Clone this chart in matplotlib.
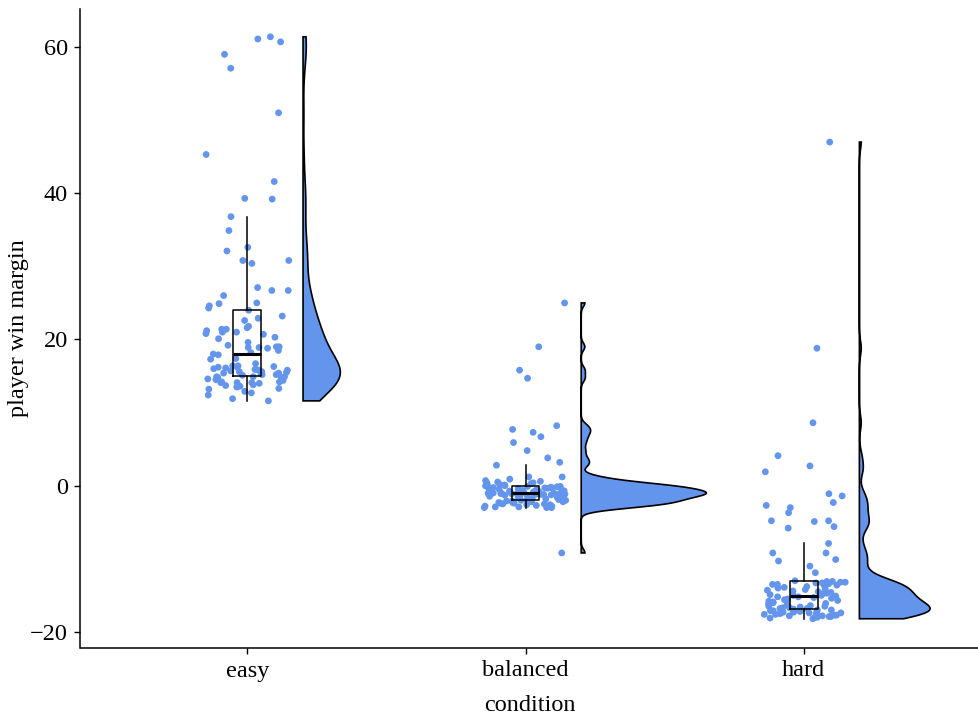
import numpy as np
import matplotlib
matplotlib.use("Agg")
import matplotlib.pyplot as plt
from matplotlib.patches import Polygon

categories = ["easy", "balanced", "hard"]

easy = [61.1, 60.7, 61.4, 59.0, 57.1, 51.0, 45.3, 41.6, 39.2, 39.3,
        36.8, 34.9, 32.1, 30.8, 32.6, 30.4, 30.8, 26.7, 27.1, 26.7,
        26.0, 24.9, 25.0, 24.6, 24.3,
        24.0, 22.6, 23.2, 22.9, 21.8, 21.6, 21.4, 21.2, 21.4, 20.7,
        21.0, 21.0, 20.8, 20.3, 20.1, 19.2, 19.0, 18.9, 19.0, 18.9,
        18.8, 18.0, 18.2, 19.6, 18.5,
        17.4, 16.7, 17.3, 16.4, 16.4, 16.2, 16.3, 16.2, 15.8, 15.9,
        15.9, 15.8, 15.2, 17.9, 15.1, 16.1, 15.6, 16.0, 15.5, 15.4,
        15.6, 15.7, 15.4, 15.3,
        14.9, 15.2, 14.9, 14.8, 14.9, 14.8, 14.2, 14.4, 14.1, 14.1,
        14.2, 14.0, 13.8, 14.1, 13.6, 13.7, 13.2, 13.3, 12.9, 12.7,
        11.9, 11.6, 14.6, 13.5, 12.4, 14.5]

balanced = [25.0, 19.0, 15.8, 14.7, 8.2, 7.7, 7.3, 6.7, 5.9, 4.8, 3.8, 3.2,
            2.8, -9.2,
            -3.0, -3.0, -3.0, -2.9, -2.9, -2.8, -2.8, -2.7, -2.6, -2.6,
            -2.5, -2.5, -2.4, -2.4, -2.3, -2.3, -2.2, -2.2, -2.1, -2.1,
            -2.1, -2.0, -2.0, -2.0,
            -1.95, -1.9, -1.8, -1.75, -1.7, -1.6, -1.55, -1.5, -1.45, -1.4,
            -1.35, -1.3, -1.3, -1.25, -1.2, -1.2, -1.15, -1.15, -1.1, -1.1,
            -1.08, -1.05, -1.05, -1.02, -1.02,
            -1.0, -0.95, -0.9, -0.85, -0.8, -0.75, -0.7, -0.65, -0.6, -0.55,
            -0.5, -0.45, -0.4, -0.35, -0.3, -0.3, -0.25, -0.2, -0.2, -0.15,
            -0.1, -0.1, -0.05, -0.05, -0.02,
            0.0, 0.1, 0.2, 0.3, 0.35, 0.4, 0.5, 0.6, 0.7, 0.9, 1.2, 1.2]

hard = [47.0, 18.8, 8.6, 4.1, 2.7, 1.9, -1.1, -1.4, -2.3, -2.7, -3.0, -3.7,
        -4.8, -4.9, -4.8, -5.8, -5.6, -7.9, -9.2, -9.2, -10.1, -10.3, -11.0,
        -11.9,
        -18.2, -18.1, -18.0, -18.0, -17.9, -17.9, -17.8, -17.8, -17.7, -17.7,
        -17.6, -17.6, -17.5, -17.5, -17.4, -17.4, -17.3, -17.3, -17.2, -17.2,
        -17.1, -17.1, -17.1, -17.0, -17.0,
        -16.9, -16.9, -16.8, -16.8, -16.7, -16.7, -16.6, -16.5, -16.5, -16.4,
        -16.3, -16.2, -16.1, -16.0, -16.0, -15.9, -15.8, -15.7, -15.6, -15.5,
        -15.4, -15.3, -15.2, -15.2, -15.1,
        -15.0, -15.0, -14.9, -14.8, -14.7, -14.6, -14.5, -14.4, -14.3, -14.2,
        -14.1, -14.0, -13.9, -13.8, -13.7, -13.6, -13.5, -13.5, -13.4, -13.3,
        -13.3, -13.2, -13.2, -13.1, -13.1, -13.0]

groups = [np.array(easy), np.array(balanced), np.array(hard)]
yticks = [-20, 0, 20, 40, 60]

BLUE = "#6495ED"
FONT = "Liberation Serif"
FS = 17.5

plt.rcParams["font.family"] = [FONT, "DejaVu Serif"]


def bw_nrd0(x):
    sd = np.std(x, ddof=1)
    q75, q25 = np.percentile(x, [75, 25])
    lo = min(sd, (q75 - q25) / 1.34)
    return 0.9 * lo * len(x) ** -0.2


def kde(x, grid, bw):
    d = (grid[:, None] - x[None, :]) / bw
    return np.exp(-0.5 * d ** 2).sum(axis=1) / (len(x) * bw * np.sqrt(2 * np.pi))


fig = plt.figure(figsize=(9.79, 7.16), dpi=100)
ax = fig.add_axes([80.5 / 979, 1 - 648 / 716, (979 - 80.5) / 979, (648 - 9) / 716])

# densities
dens = []
for g in groups:
    grid = np.linspace(g.min(), g.max(), 512)
    dens.append((grid, kde(g, grid, bw_nrd0(g))))
gmax = max(d.max() for _, d in dens)

for i, (grid, d) in enumerate(dens):
    base = i + 1 + 0.2
    w = d / gmax * 0.45
    xs = np.concatenate([np.full(len(grid), base), (base + w)[::-1]])
    ys = np.concatenate([grid, grid[::-1]])
    poly = Polygon(np.column_stack([xs, ys]), closed=True, facecolor=BLUE,
                   edgecolor="black", linewidth=1.2, zorder=2)
    ax.add_patch(poly)

# jittered points
rng = np.random.default_rng(7)
for i, g in enumerate(groups):
    xj = i + 1 + rng.uniform(-0.15, 0.15, len(g))
    ax.scatter(xj, g, s=24, color=BLUE, edgecolors="none", zorder=3)

# boxplots
ax.boxplot(groups, positions=[1, 2, 3], widths=0.1, showfliers=False,
           showcaps=False, whis=1.5, manage_ticks=False, zorder=4,
           boxprops=dict(color="black", linewidth=1.1),
           whiskerprops=dict(color="black", linewidth=1.1),
           medianprops=dict(color="black", linewidth=2.2))

ax.set_xlim(0.4, 3.63)
ax.set_ylim(-22.2, 65.2)
ax.set_xticks([1, 2, 3])
ax.set_xticklabels(categories)
ax.set_yticks(yticks)
ax.set_yticklabels([str(t).replace("-", "\u2212") for t in yticks])

for s in ["top", "right"]:
    ax.spines[s].set_visible(False)
for s in ["left", "bottom"]:
    ax.spines[s].set_linewidth(1.1)
    ax.spines[s].set_color("black")

ax.tick_params(axis="both", length=4, width=1.0, color="black",
               labelsize=FS, labelcolor="black")
ax.tick_params(axis="y", pad=5)
ax.tick_params(axis="x", pad=5)
ax.set_xlabel("condition", fontsize=FS, labelpad=10)
ax.set_ylabel("player win margin", fontsize=FS, labelpad=0.5)

fig.savefig("out.png", dpi=100)
